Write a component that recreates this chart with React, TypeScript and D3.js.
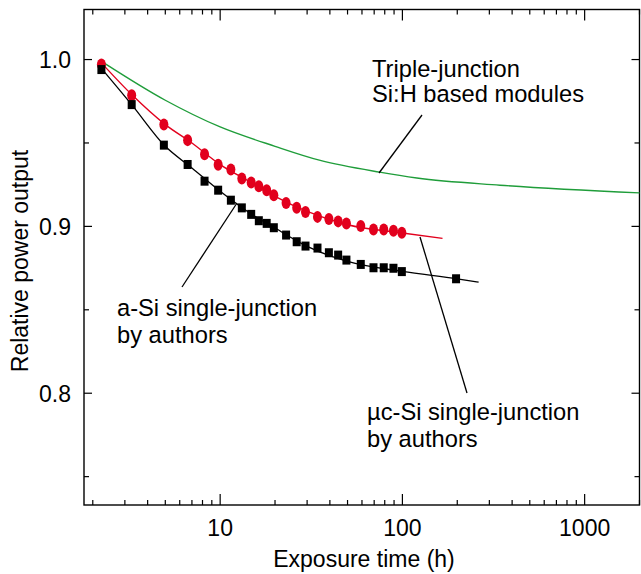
import React from 'react'
import * as d3 from 'd3'

// exposure times (h) of the measured points
const hours = [2.23, 3.27, 4.91, 6.63, 8.21, 9.75, 11.45, 13.15, 14.8, 16.3, 18.0, 19.7, 23.0, 26.3, 29.4, 34.2, 39.5, 44.4, 49.3, 59.1, 69.4, 79.0, 89.3, 99.3]
// uc-Si single junction (red circles)
const ucSiPower = [0.997, 0.9786, 0.961, 0.9517, 0.9433, 0.9369, 0.9341, 0.9287, 0.9263, 0.9241, 0.9216, 0.9187, 0.914, 0.9111, 0.9086, 0.9057, 0.9044, 0.903, 0.9018, 0.9002, 0.8982, 0.8982, 0.8974, 0.8962]
// a-Si single junction (black squares), one more point at ~200 h
const aSiHours = [...hours, 197]
const aSiPower = [0.994, 0.973, 0.9487, 0.9371, 0.9271, 0.9217, 0.9157, 0.9111, 0.9072, 0.9034, 0.9018, 0.8992, 0.8948, 0.8908, 0.8882, 0.887, 0.8842, 0.8828, 0.8798, 0.8772, 0.8752, 0.8752, 0.8749, 0.8729, 0.8686]

// fitted lines
const ucFitHours = [2.23, 3.27, 5, 7, 10, 15, 20, 30, 50, 100, 166]
const ucFitPower = [0.998, 0.979, 0.961, 0.95, 0.937, 0.926, 0.918, 0.909, 0.901, 0.896, 0.8928]
const aFitHours = [2.26, 3.27, 5, 7, 10, 15, 20, 30, 50, 100, 200, 262]
const aFitPower = [0.994, 0.973, 0.948, 0.935, 0.921, 0.907, 0.899, 0.888, 0.879, 0.873, 0.8686, 0.8666]
const tripleHours = [2.3, 5, 10, 20, 35, 75, 120, 343, 2000]
const triplePower = [0.998, 0.9756, 0.9596, 0.948, 0.9397, 0.9325, 0.929, 0.9247, 0.9201]

const yTicks = [1.0, 0.9, 0.8]
const yMinor = [0.95, 0.85, 0.75]
const xTicks = [10, 100, 1000]

const W = 641
const H = 574
const left = 84
const right = 639.5
const top = 9.5
const bottom = 505

const font = '"Liberation Sans", Arial, Helvetica, sans-serif'
const RED = '#e2001d'
const GREEN = '#1f9d3a'
const NOTE = 23.7

export default function App() {
  const x = d3.scaleLog().domain([1.79, 2000]).range([left, right])
  const y = d3.scaleLinear().domain([0.733, 1.03]).range([bottom, top])

  const xMinor: number[] = []
  for (const dec of [1, 10, 100, 1000]) {
    for (let k = 2; k <= 9; k++) {
      const v = k * dec
      if (v >= 1.79 && v <= 2000) xMinor.push(v)
    }
  }

  const fit = (hs: number[], ps: number[]) =>
    d3.line<number>()
      .x((_, i) => x(hs[i]))
      .y((p) => y(p))
      .curve(d3.curveMonotoneX)(ps) || ''

  return (
    <svg width={W} height={H} style={{ position: 'absolute', left: 0, top: 0, background: '#fff' }} fontFamily={font}>
      {/* frame */}
      <rect x={left} y={top} width={right - left} height={bottom - top} fill="none" stroke="#000" strokeWidth={1.4} />

      {/* y ticks, both sides, pointing in */}
      {yTicks.map((t) => (
        <g key={'y' + t}>
          <line x1={left} x2={left + 8} y1={y(t)} y2={y(t)} stroke="#000" strokeWidth={1.2} />
          <line x1={right} x2={right - 8} y1={y(t)} y2={y(t)} stroke="#000" strokeWidth={1.2} />
          <text x={71} y={y(t)} dy="0.36em" textAnchor="end" fontSize={23}>{t.toFixed(1)}</text>
        </g>
      ))}
      {yMinor.map((t) => (
        <g key={'ym' + t}>
          <line x1={left} x2={left + 5} y1={y(t)} y2={y(t)} stroke="#000" strokeWidth={1.2} />
          <line x1={right} x2={right - 5} y1={y(t)} y2={y(t)} stroke="#000" strokeWidth={1.2} />
        </g>
      ))}

      {/* x ticks, top and bottom */}
      {xTicks.map((t) => (
        <g key={'x' + t}>
          <line x1={x(t)} x2={x(t)} y1={bottom} y2={bottom - 11} stroke="#000" strokeWidth={1.2} />
          <line x1={x(t)} x2={x(t)} y1={top} y2={top + 11} stroke="#000" strokeWidth={1.2} />
          <text x={x(t)} y={536} textAnchor="middle" fontSize={23}>{t}</text>
        </g>
      ))}
      {xMinor.map((t) => (
        <g key={'xm' + t}>
          <line x1={x(t)} x2={x(t)} y1={bottom} y2={bottom - 5} stroke="#000" strokeWidth={1.2} />
          <line x1={x(t)} x2={x(t)} y1={top} y2={top + 5} stroke="#000" strokeWidth={1.2} />
        </g>
      ))}

      {/* axis titles */}
      <text x={364} y={567} textAnchor="middle" fontSize={23}>Exposure time (h)</text>
      <text transform={`translate(28,261) rotate(-90)`} textAnchor="middle" fontSize={23}>Relative power output</text>

      {/* lines */}
      <path d={fit(tripleHours, triplePower)} fill="none" stroke={GREEN} strokeWidth={1.4} />
      <path d={fit(ucFitHours, ucFitPower)} fill="none" stroke={RED} strokeWidth={1.4} />
      <path d={fit(aFitHours, aFitPower)} fill="none" stroke="#000" strokeWidth={1.3} />

      {/* markers */}
      {ucSiPower.map((p, i) => (
        <ellipse key={'r' + i} cx={x(hours[i])} cy={y(p)} rx={4.5} ry={6} fill={RED} />
      ))}
      {aSiPower.map((p, i) => (
        <rect key={'b' + i} x={x(aSiHours[i]) - 4} y={y(p) - 4.5} width={8} height={9} fill="#000" />
      ))}

      {/* annotations */}
      <line x1={422} y1={115} x2={379} y2={173} stroke="#000" strokeWidth={1.3} />
      <text x={372} y={77} fontSize={NOTE}>Triple-junction</text>
      <text x={372} y={102} fontSize={NOTE}>Si:H based modules</text>

      <line x1={182} y1={287} x2={237} y2={203} stroke="#000" strokeWidth={1.3} />
      <text x={117} y={316} fontSize={NOTE}>a-Si single-junction</text>
      <text x={117} y={343} fontSize={NOTE}>by authors</text>

      <line x1={420} y1={237} x2={467} y2={393} stroke="#000" strokeWidth={1.3} />
      <text x={367} y={420} fontSize={NOTE}>µc-Si single-junction</text>
      <text x={367} y={447} fontSize={NOTE}>by authors</text>
    </svg>
  )
}
